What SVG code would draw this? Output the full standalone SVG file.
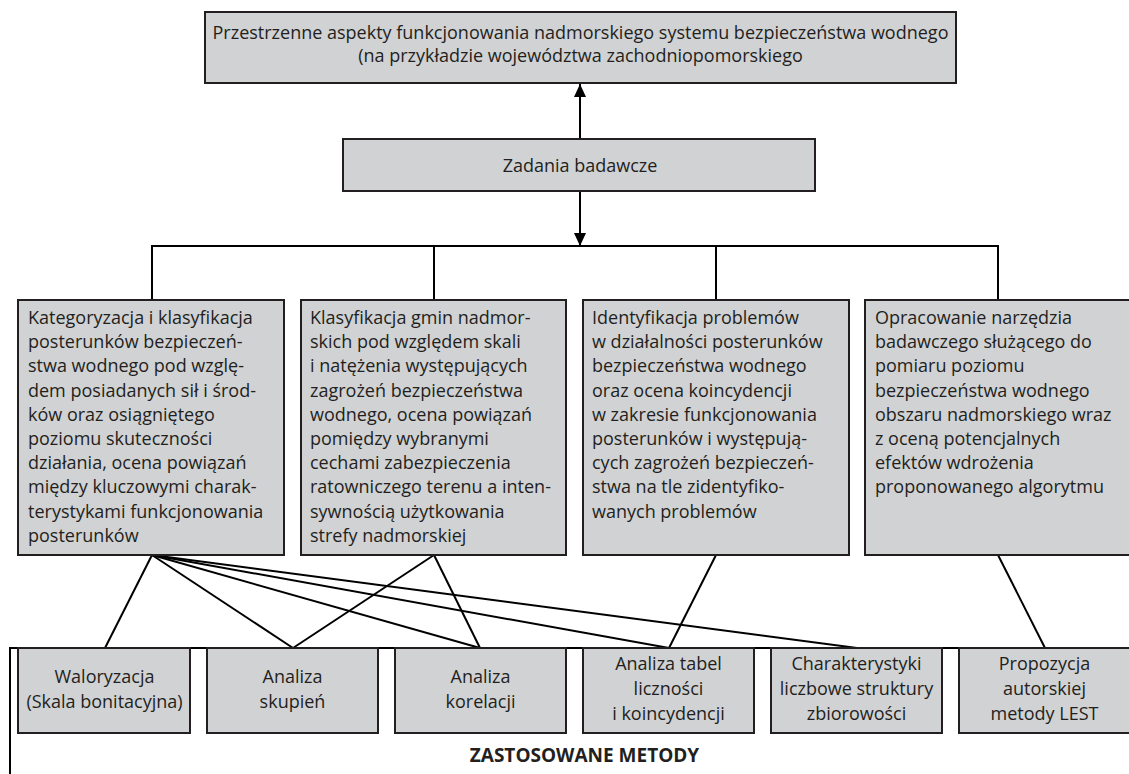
<svg xmlns="http://www.w3.org/2000/svg" width="1129" height="774" viewBox="0 0 1129 774">
<style>
.box{fill:#d1d2d4;stroke:#231f20;stroke-width:2}
.ln{stroke:#000;stroke-width:2;fill:none}
text{font-family:"Open Sans","Noto Sans",sans-serif;fill:#231f20;font-size:18px}
.c{text-anchor:middle}
.b{font-weight:bold;font-size:19px}
</style>
<defs>
<marker id="ah" viewBox="0 0 13 12" refX="13" refY="6" markerWidth="13" markerHeight="12" markerUnits="userSpaceOnUse" orient="auto"><path d="M0,0 L13,6 L0,12 z" fill="#000"/></marker>
</defs>
<rect width="1129" height="774" fill="#fff"/>

<g id="connectors">
<line class="ln" x1="580" y1="139" x2="580" y2="84" marker-end="url(#ah)"/>
<line class="ln" x1="580" y1="191" x2="580" y2="246" marker-end="url(#ah)"/>
<polyline class="ln" points="152,300 152,246 998,246 998,300"/>
<line class="ln" x1="434" y1="246" x2="434" y2="300"/>
<line class="ln" x1="716" y1="246" x2="716" y2="300"/>
<line class="ln" x1="152" y1="555" x2="105" y2="648"/>
<line class="ln" x1="152" y1="555" x2="293" y2="648"/>
<line class="ln" x1="152" y1="555" x2="480" y2="648"/>
<line class="ln" x1="152" y1="555" x2="669" y2="648"/>
<line class="ln" x1="152" y1="555" x2="857" y2="648"/>
<line class="ln" x1="434" y1="555" x2="293" y2="648"/>
<line class="ln" x1="434" y1="555" x2="480" y2="648"/>
<line class="ln" x1="716" y1="555" x2="669" y2="648"/>
<line class="ln" x1="998" y1="555" x2="1045" y2="648"/>
<polyline class="ln" points="10,774 10,648 1129,648"/>
</g>

<g id="goal">
<rect class="box" x="205" y="12" width="751" height="71"/>
<text class="c" x="580.5" y="39">Przestrzenne aspekty funkcjonowania nadmorskiego systemu bezpieczeństwa wodnego</text>
<text class="c" x="580.5" y="62">(na przykładzie województwa zachodniopomorskiego</text>
</g>

<g id="tasks">
<rect class="box" x="343" y="139" width="472" height="52"/>
<text class="c" x="580" y="172">Zadania badawcze</text>
</g>

<g id="task1">
<rect class="box" x="18" y="300" width="266" height="255"/>
<text x="28" y="324">Kategoryzacja i klasyfikacja</text>
<text x="28" y="348.2">posterunków bezpieczeń-</text>
<text x="28" y="372.4">stwa wodnego pod wzglę-</text>
<text x="28" y="396.6">dem posiadanych sił i środ-</text>
<text x="28" y="420.8">ków oraz osiągniętego</text>
<text x="28" y="445">poziomu skuteczności</text>
<text x="28" y="469.2">działania, ocena powiązań</text>
<text x="28" y="493.4">między kluczowymi charak-</text>
<text x="28" y="517.6">terystykami funkcjonowania</text>
<text x="28" y="541.8">posterunków</text>
</g>

<g id="task2">
<rect class="box" x="301" y="300" width="265" height="255"/>
<text x="310" y="324">Klasyfikacja gmin nadmor-</text>
<text x="310" y="348.2">skich pod względem skali</text>
<text x="310" y="372.4">i natężenia występujących</text>
<text x="310" y="396.6">zagrożeń bezpieczeństwa</text>
<text x="310" y="420.8">wodnego, ocena powiązań</text>
<text x="310" y="445">pomiędzy wybranymi</text>
<text x="310" y="469.2">cechami zabezpieczenia</text>
<text x="310" y="493.4">ratowniczego terenu a inten-</text>
<text x="310" y="517.6">sywnością użytkowania</text>
<text x="310" y="541.8">strefy nadmorskiej</text>
</g>

<g id="task3">
<rect class="box" x="583" y="300" width="266" height="255"/>
<text x="592" y="324">Identyfikacja problemów</text>
<text x="592" y="348.2">w działalności posterunków</text>
<text x="592" y="372.4">bezpieczeństwa wodnego</text>
<text x="592" y="396.6">oraz ocena koincydencji</text>
<text x="592" y="420.8">w zakresie funkcjonowania</text>
<text x="592" y="445">posterunków i występują-</text>
<text x="592" y="469.2">cych zagrożeń bezpieczeń-</text>
<text x="592" y="493.4">stwa na tle zidentyfiko-</text>
<text x="592" y="517.6">wanych problemów</text>
</g>

<g id="task4">
<rect class="box" x="865" y="300" width="265" height="255"/>
<text x="875" y="324">Opracowanie narzędzia</text>
<text x="875" y="348.2">badawczego służącego do</text>
<text x="875" y="372.4">pomiaru poziomu</text>
<text x="875" y="396.6">bezpieczeństwa wodnego</text>
<text x="875" y="420.8">obszaru nadmorskiego wraz</text>
<text x="875" y="445">z oceną potencjalnych</text>
<text x="875" y="469.2">efektów wdrożenia</text>
<text x="875" y="493.4">proponowanego algorytmu</text>
</g>

<g id="m1">
<rect class="box" x="18" y="648" width="172" height="85"/>
<text class="c" x="104.5" y="683">Waloryzacja</text>
<text class="c" x="104.5" y="708">(Skala bonitacyjna)</text>
</g>
<g id="m2">
<rect class="box" x="207" y="648" width="171" height="85"/>
<text class="c" x="292.5" y="683">Analiza</text>
<text class="c" x="292.5" y="708">skupień</text>
</g>
<g id="m3">
<rect class="box" x="395" y="648" width="171" height="85"/>
<text class="c" x="480.5" y="683">Analiza</text>
<text class="c" x="480.5" y="708">korelacji</text>
</g>
<g id="m4">
<rect class="box" x="583" y="648" width="171" height="85"/>
<text class="c" x="668.5" y="670">Analiza tabel</text>
<text class="c" x="668.5" y="695">liczności</text>
<text class="c" x="668.5" y="720">i koincydencji</text>
</g>
<g id="m5">
<rect class="box" x="771" y="648" width="171" height="85"/>
<text class="c" x="856.5" y="670">Charakterystyki</text>
<text class="c" x="856.5" y="695">liczbowe struktury</text>
<text class="c" x="856.5" y="720">zbiorowości</text>
</g>
<g id="m6">
<rect class="box" x="959" y="648" width="171" height="85"/>
<text class="c" x="1044.5" y="670">Propozycja</text>
<text class="c" x="1044.5" y="695">autorskiej</text>
<text class="c" x="1044.5" y="720">metody LEST</text>
</g>

<g id="label">
<text class="b c" x="584.5" y="762">ZASTOSOWANE METODY</text>
</g>
</svg>
